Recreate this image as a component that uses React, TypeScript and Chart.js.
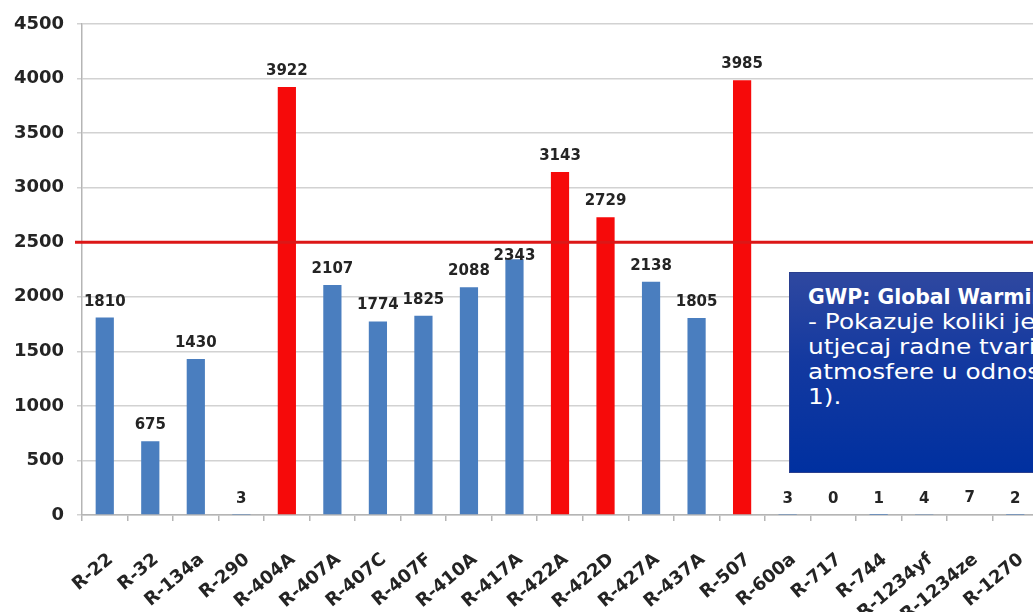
import React, { useEffect, useRef } from "react";
import { Chart, registerables } from "chart.js";

Chart.register(...registerables);

// Refrigerants and their global warming potential (GWP)
const refrigerants = [
  "R-22", "R-32", "R-134a", "R-290", "R-404A", "R-407A", "R-407C", "R-407F",
  "R-410A", "R-417A", "R-422A", "R-422D", "R-427A", "R-437A", "R-507",
  "R-600a", "R-717", "R-744", "R-1234yf", "R-1234ze", "R-1270",
];
const gwpValues = [
  1810, 675, 1430, 3, 3922, 2107, 1774, 1825, 2088, 2343, 3143, 2729, 2138,
  1805, 3985, 3, 0, 1, 4, 7, 2,
];
const gwpLimit = 2500;
const yTicks = [0, 500, 1000, 1500, 2000, 2500, 3000, 3500, 4000, 4500];

const boxTitle = "GWP: Global Warming Potential";
const boxLines = [
  "- Pokazuje koliki je potencijalni",
  "utjecaj radne tvari na zagrijavanje",
  "atmosfere u odnosu na CO2 (GWP CO2 =",
  "1).",
];

const BLUE = "#4a7ebf";
const RED = "#f60a0a";
const LIMIT_RED = "#dc1717";
const TEXT = "#242424";
const FONT = "'DejaVu Sans', sans-serif";

// Horizontal limit line across the plot
const limitLinePlugin = {
  id: "limitLine",
  afterDatasetsDraw(chart: any) {
    const { ctx, chartArea, scales } = chart;
    const y = scales.y.getPixelForValue(gwpLimit);
    ctx.save();
    ctx.strokeStyle = LIMIT_RED;
    ctx.lineWidth = 3;
    ctx.beginPath();
    ctx.moveTo(chartArea.left - 7, y);
    ctx.lineTo(chart.width, y);
    ctx.stroke();
    ctx.restore();
  },
};

// Value labels above each bar; labels that would sit on the limit line go just under it
const valueLabelPlugin = {
  id: "valueLabels",
  afterDatasetsDraw(chart: any) {
    const { ctx, scales } = chart;
    const meta = chart.getDatasetMeta(0);
    const limitY = scales.y.getPixelForValue(gwpLimit);
    const cap = 11;
    ctx.save();
    ctx.font = `bold 15px ${FONT}`;
    ctx.fillStyle = TEXT;
    ctx.textAlign = "center";
    ctx.textBaseline = "alphabetic";
    meta.data.forEach((bar: any, i: number) => {
      const v = gwpValues[i];
      let baseline = bar.y - 12;
      if (v < gwpLimit && baseline - cap < limitY + 4 && baseline > limitY - 4) {
        baseline = limitY + 1.5 + 5 + cap;
      }
      ctx.fillText(String(v), bar.x, baseline);
    });
    ctx.restore();
  },
};

function GwpChart() {
  const canvasRef = useRef<HTMLCanvasElement | null>(null);

  useEffect(() => {
    if (!canvasRef.current) return;
    const chart = new Chart(canvasRef.current, {
      type: "bar",
      data: {
        labels: refrigerants,
        datasets: [
          {
            data: gwpValues,
            backgroundColor: gwpValues.map((v) => (v > gwpLimit ? RED : BLUE)),
            barPercentage: 0.4,
            categoryPercentage: 1,
          },
        ],
      },
      options: {
        responsive: false,
        animation: false,
        devicePixelRatio: 1,
        layout: { padding: { top: 24, left: 0, right: 0, bottom: 0 } },
        plugins: {
          legend: { display: false },
          tooltip: { enabled: false },
          title: { display: false },
        },
        scales: {
          x: {
            ticks: {
              font: { family: FONT, weight: "bold", size: 18 },
              color: TEXT,
              minRotation: 40,
              maxRotation: 40,
              autoSkip: false,
              padding: 28,
              labelOffset: 6,
            },
            grid: {
              drawOnChartArea: false,
              tickLength: 6,
              color: "#b5b5b5",
              lineWidth: 1.5,
              offset: true,
            },
            border: { display: true, color: "#b5b5b5", width: 1.5 },
            afterFit: (s: any) => {
              s.height = 97;
              s.paddingLeft = 0;
              s.paddingRight = 0;
            },
          },
          y: {
            min: 0,
            max: 4500,
            afterBuildTicks: (s: any) => {
              s.ticks = yTicks.map((value) => ({ value }));
            },
            ticks: {
              font: { family: FONT, weight: "bold", size: 18 },
              color: TEXT,
              padding: 13,
              callback: (value: any) => String(value),
            },
            grid: { color: "#d2d2d2", lineWidth: 1.5, tickLength: 5 },
            border: { display: true, color: "#b5b5b5", width: 1.5 },
            afterFit: (s: any) => {
              s.width = 82;
            },
          },
        },
      },
      plugins: [limitLinePlugin, valueLabelPlugin],
    });
    return () => chart.destroy();
  }, []);

  return <canvas ref={canvasRef} width={1038} height={612} style={{ display: "block" }} />;
}

function InfoBox() {
  return (
    <div
      style={{
        position: "absolute",
        left: 789,
        top: 272,
        width: 300,
        height: 201,
        boxSizing: "border-box",
        border: "1px solid #2a3f8f",
        background: "linear-gradient(to bottom, #2f48a0 0%, #1339a0 45%, #0030a0 100%)",
        color: "#ffffff",
        fontFamily: FONT,
        fontSize: 21,
        lineHeight: "25px",
        paddingTop: 12,
        paddingLeft: 18,
        whiteSpace: "nowrap",
        overflow: "hidden",
      }}
    >
      <div style={{ fontWeight: "bold", fontSize: 20.4 }}>{boxTitle}</div>
      <div style={{ transform: "scaleX(1.18)", transformOrigin: "left top" }}>
        {boxLines.map((line) => (
          <div key={line}>{line}</div>
        ))}
      </div>
    </div>
  );
}

export default function App() {
  return (
    <div
      style={{
        position: "fixed",
        left: 0,
        top: 0,
        width: 1033,
        height: 612,
        overflow: "hidden",
        background: "#ffffff",
      }}
    >
      <GwpChart />
      <InfoBox />
    </div>
  );
}
